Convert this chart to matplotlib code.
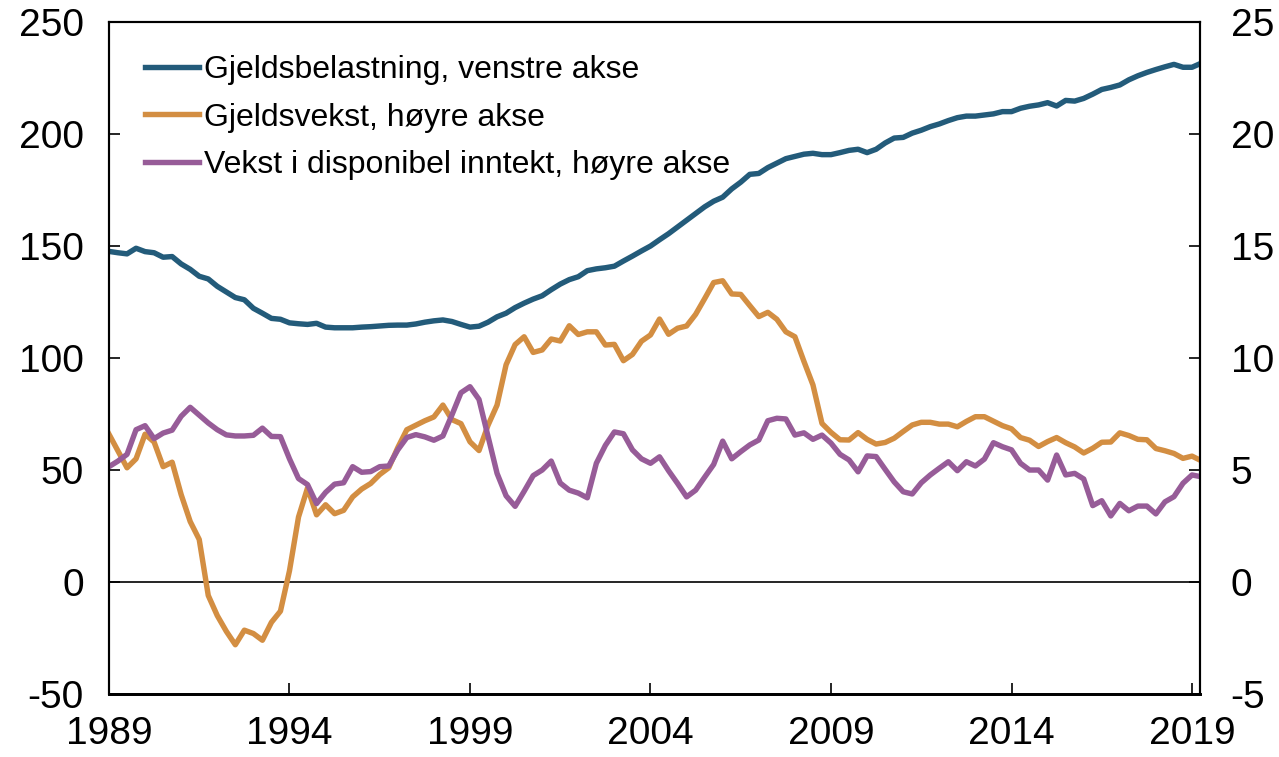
import numpy as np
import matplotlib
matplotlib.use('Agg')
import matplotlib.pyplot as plt

plt.rcParams['font.family'] = ['Liberation Sans', 'DejaVu Sans']
plt.rcParams['axes.unicode_minus'] = False

# quarterly, 1989Q1 - 2019Q2
start_year = 1989

gjeldsbelastning = [
    147.6, 147.0, 146.5, 149.0, 147.5, 147.0, 145.0, 145.3, 142.0, 139.6,
    136.5, 135.3, 132.0, 129.5, 127.0, 126.0, 122.2, 120.0, 117.7, 117.3,
    115.7, 115.3, 115.0, 115.5, 113.8, 113.5, 113.5, 113.5, 113.8, 114.0,
    114.3, 114.6, 114.7, 114.7, 115.2, 116.0, 116.6, 117.0, 116.3, 115.0,
    113.8, 114.2, 116.0, 118.4, 120.0, 122.5, 124.5, 126.3, 127.8, 130.5,
    133.0, 135.0, 136.3, 139.0, 139.8, 140.3, 141.0, 143.3, 145.5, 147.8,
    150.0, 152.8, 155.5, 158.5, 161.5, 164.5, 167.5, 170.0, 171.8, 175.5,
    178.5, 182.0, 182.4, 185.0, 187.0, 189.0, 190.0, 191.0, 191.4, 190.8,
    190.8, 191.7, 192.7, 193.2, 191.7, 193.2, 196.0, 198.2, 198.5, 200.4,
    201.7, 203.3, 204.5, 206.0, 207.3, 208.0, 208.0, 208.5, 209.0, 210.0,
    210.0, 211.5, 212.4, 213.0, 214.0, 212.5, 215.0, 214.7, 215.9, 217.8,
    219.9, 220.8, 221.9, 224.2, 226.0, 227.5, 228.8, 230.0, 231.1, 229.8,
    229.8, 231.6,
]

gjeldsvekst = [
    6.6, 5.85, 5.1, 5.5, 6.6, 6.25, 5.15, 5.35, 3.9, 2.7,
    1.9, -0.6, -1.5, -2.2, -2.8, -2.15, -2.3, -2.6, -1.8, -1.3,
    0.5, 2.9, 4.2, 3.0, 3.45, 3.05, 3.2, 3.8, 4.15, 4.4,
    4.8, 5.1, 6.0, 6.8, 7.0, 7.2, 7.37, 7.9, 7.25, 7.07,
    6.26, 5.87, 7.0, 7.9, 9.7, 10.6, 10.95, 10.25, 10.36, 10.85,
    10.76, 11.44, 11.05, 11.17, 11.17, 10.58, 10.61, 9.88, 10.16, 10.75,
    11.03, 11.74, 11.06, 11.33, 11.43, 11.95, 12.65, 13.37, 13.45, 12.86,
    12.84, 12.34, 11.85, 12.04, 11.73, 11.17, 10.95, 9.85, 8.8, 7.08,
    6.68, 6.35, 6.34, 6.67, 6.37, 6.16, 6.23, 6.42, 6.72, 7.01,
    7.13, 7.13, 7.05, 7.05, 6.93, 7.17, 7.38, 7.38, 7.18, 6.98,
    6.84, 6.45, 6.33, 6.05, 6.27, 6.45, 6.22, 6.03, 5.76, 5.97,
    6.24, 6.25, 6.66, 6.54, 6.37, 6.35, 5.96, 5.86, 5.74, 5.52,
    5.62, 5.42,
]

inntektsvekst = [
    5.15, 5.4, 5.7, 6.8, 6.98, 6.4, 6.65, 6.78, 7.4, 7.8,
    7.45, 7.1, 6.8, 6.57, 6.52, 6.52, 6.55, 6.87, 6.5, 6.49,
    5.5, 4.62, 4.35, 3.5, 4.0, 4.37, 4.43, 5.15, 4.9, 4.93,
    5.15, 5.18, 5.9, 6.45, 6.58, 6.48, 6.33, 6.52, 7.46, 8.45,
    8.72, 8.15, 6.5, 4.85, 3.85, 3.38, 4.05, 4.75, 5.0, 5.4,
    4.42, 4.1, 3.97, 3.76, 5.3, 6.1, 6.7, 6.62, 5.9, 5.5,
    5.3, 5.59, 4.97, 4.4, 3.8, 4.1, 4.68, 5.25, 6.29, 5.5,
    5.82, 6.12, 6.34, 7.2, 7.31, 7.28, 6.56, 6.66, 6.37, 6.56,
    6.2, 5.7, 5.45, 4.92, 5.63, 5.6, 5.03, 4.47, 4.03, 3.93,
    4.43, 4.78, 5.08, 5.37, 4.97, 5.37, 5.18, 5.49, 6.22, 6.04,
    5.9, 5.3, 5.0, 5.0, 4.55, 5.67, 4.78, 4.85, 4.6, 3.41,
    3.63, 2.95, 3.51, 3.18, 3.39, 3.39, 3.04, 3.58, 3.81, 4.41,
    4.78, 4.7,
]

labels = ['Gjeldsbelastning, venstre akse',
          'Gjeldsvekst, høyre akse',
          'Vekst i disponibel inntekt, høyre akse']
colors = ['#235B7A', '#D38E42', '#975C98']

x = start_year + np.arange(len(gjeldsbelastning)) / 4.0

fig = plt.figure(figsize=(12.79, 7.57), dpi=100)
ax = fig.add_axes([0.0852, 0.0832, 0.8530, 0.8877])
ax2 = ax.twinx()

ax.axhline(0, color='black', lw=1.2, zorder=1)
l1, = ax.plot(x, gjeldsbelastning, color=colors[0], lw=3.9, label=labels[0],
              solid_joinstyle='round')
l2, = ax2.plot(x, gjeldsvekst, color=colors[1], lw=3.9, label=labels[1],
               solid_joinstyle='round')
l3, = ax2.plot(x, inntektsvekst, color=colors[2], lw=3.9, label=labels[2],
               solid_joinstyle='round')

ax.set_xlim(1989, 2019.22)
ax.set_ylim(-50, 250)
ax2.set_ylim(-5, 25)
ax.set_xticks(np.arange(1989, 2020, 5))
ax.set_yticks(np.arange(-50, 251, 50))
ax2.set_yticks(np.arange(-5, 26, 5))

for a in (ax, ax2):
    for s in a.spines.values():
        s.set_linewidth(1.5)
    a.spines['bottom'].set_linewidth(2)
ax.tick_params(axis='both', direction='in', length=8, width=1.2,
               labelsize=28, pad=18)
ax.tick_params(axis='x', pad=16)
ax2.tick_params(axis='y', direction='in', length=8, width=1.2,
                labelsize=28, pad=22)

ax2.legend(handles=[l1, l2, l3], loc='upper left',
           bbox_to_anchor=(0.033, 0.951), frameon=False, fontsize=23,
           handlelength=1.7, handletextpad=0.15, labelspacing=0.55,
           borderaxespad=0, borderpad=0)

fig.savefig('out.png', dpi=100)
